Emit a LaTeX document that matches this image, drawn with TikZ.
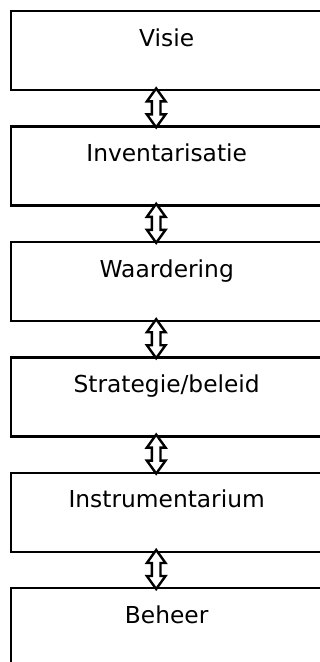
\documentclass[tikz,border=0pt]{standalone}
\usepackage{fontspec}
\setmainfont{DejaVu Sans}
\usetikzlibrary{positioning,calc}

\tikzset{
    stap/.style={draw, line width=1.8pt, rectangle, minimum width=233.25pt,
        inner xsep=0pt, inner ysep=0pt, text height=26.25pt, text depth=33pt,
        font=\fontsize{17.5}{20}\selectfont},
    pijl/.style={draw, line width=1.8pt, fill=white, line join=miter}
}

% hol dubbel pijltje tussen twee stappen
\newcommand{\pijl}[2]{%
    \draw[pijl] let \p1=(#1.south), \p2=(#2.north),
        \n1={\x1-7.875pt}, \n2={\y1+2.25pt}, \n3={\y2-1.5pt} in
        (\n1,\n2) -- (\n1+7pt,\n2-9.75pt) -- (\n1+3.2pt,\n2-9.75pt)
        -- (\n1+3.2pt,\n3+9.75pt) -- (\n1+7pt,\n3+9.75pt) -- (\n1,\n3)
        -- (\n1-7pt,\n3+9.75pt) -- (\n1-3.2pt,\n3+9.75pt)
        -- (\n1-3.2pt,\n2-9.75pt) -- (\n1-7pt,\n2-9.75pt) -- cycle;}

\begin{document}
\begin{tikzpicture}[x=0.75pt, y=-0.75pt]
        % Rand
        \useasboundingbox (0,0) rectangle (320,662);
        \def\gap{25.5pt}

        % Stappen
        \node[stap, anchor=north west] (visie) at (10,10) {Visie};
        \node[stap, below=\gap of visie] (invent) {Inventarisatie};
        \node[stap, below=\gap of invent] (waard) {Waardering};
        \node[stap, below=\gap of waard] (strat) {Strategie/beleid};
        \node[stap, below=\gap of strat] (instr) {Instrumentarium};
        \node[stap, below=\gap of instr] (beheer) {Beheer};

        % Pijlen tussen de stappen
        \pijl{visie}{invent}
        \pijl{invent}{waard}
        \pijl{waard}{strat}
        \pijl{strat}{instr}
        \pijl{instr}{beheer}
\end{tikzpicture}
\end{document}
